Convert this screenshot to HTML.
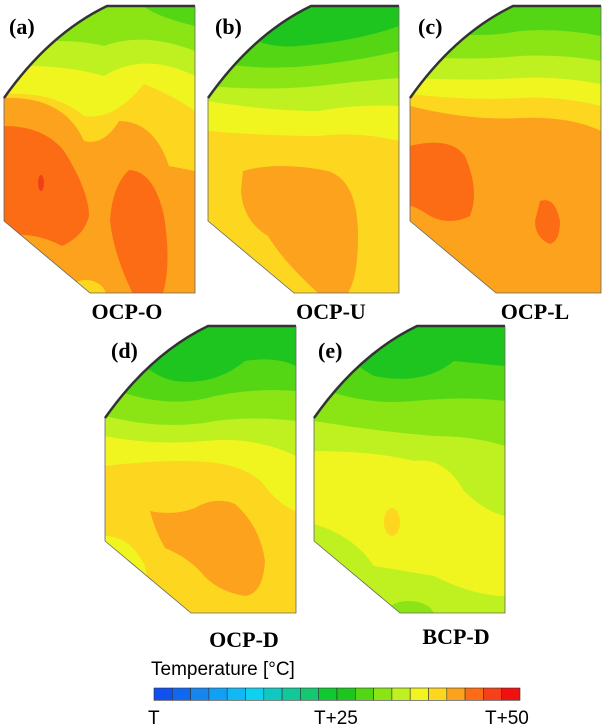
<!DOCTYPE html>
<html><head><meta charset="utf-8"><style>
html,body{margin:0;padding:0;background:#fff;width:610px;height:728px;overflow:hidden}
svg{display:block}
.l{font-family:"Liberation Serif",serif;font-weight:bold;font-size:22px;fill:#000}
.t{font-family:"Liberation Sans",sans-serif;font-size:19px;fill:#000}
</style></head><body>
<svg width="610" height="728" viewBox="0 0 610 728">
<defs>
<clipPath id="sh"><path d="M103,0 H191 V287 H86 L0,215 V92 Q45,28 103,0 Z"/></clipPath>
</defs>

<!-- Panel a -->
<g transform="translate(4,6)">
<g clip-path="url(#sh)">
<rect width="191" height="287" fill="#55d615"/>
<path d="M0,0 L0,0 H140 Q150,10 191,20 V287 H0Z" fill="#8be515"/>
<path d="M0,40 Q60,30 100,40 Q140,25 191,45 V287 H0Z" fill="#bff020"/>
<path d="M0,60 Q60,58 100,70 Q140,45 191,70 V287 H0Z" fill="#f0f520"/>
<path d="M0,88 Q50,85 80,110 Q110,115 140,78 Q170,90 191,105 V287 H0Z" fill="#fdd620"/>
<path d="M0,92 Q60,90 80,135 Q100,140 115,115 Q150,115 165,160 L191,165 V287 H0Z" fill="#fca21c"/>
<path d="M0,120 Q40,120 60,145 Q85,185 85,210 Q80,230 58,240 Q30,225 0,230Z" fill="#fc6c14"/>
<path d="M125,164 Q150,165 160,210 Q168,260 158,290 L130,290 Q110,250 106,215 Q108,180 125,164Z" fill="#fc6c14"/>
<ellipse cx="37" cy="177" rx="3" ry="8" fill="#f0401a"/>
<ellipse cx="82" cy="290" rx="20" ry="16" fill="#fdd620"/>
</g>
<path d="M0,92 Q45,28 103,0 H191" fill="none" stroke="#333" stroke-width="2.5"/>
<path d="M191,0 V287 H86 L0,215 V92" fill="none" stroke="#666" stroke-width="0.8"/>
</g>

<!-- Panel b -->
<g transform="translate(208,6)">
<g clip-path="url(#sh)">
<rect width="191" height="287" fill="#1fc51f"/>
<path d="M0,0 Q40,45 90,40 Q150,35 191,20 V287 H0Z" fill="#55d615"/>
<path d="M0,55 Q50,65 100,60 Q150,55 191,45 V287 H0Z" fill="#8be515"/>
<path d="M0,80 Q60,85 110,80 Q150,75 191,72 V287 H0Z" fill="#bff020"/>
<path d="M0,95 Q60,105 110,105 Q150,98 191,100 V287 H0Z" fill="#f0f520"/>
<path d="M0,125 Q60,130 110,130 Q150,125 191,135 V287 H0Z" fill="#fdd620"/>
<path d="M35,165 Q70,155 120,165 Q150,175 150,230 Q150,270 140,287 L110,287 Q75,255 60,230 Q35,215 33,185Z" fill="#fca21c"/>
</g>
<path d="M0,92 Q45,28 103,0 H191" fill="none" stroke="#333" stroke-width="2.5"/>
<path d="M191,0 V287 H86 L0,215 V92" fill="none" stroke="#666" stroke-width="0.8"/>
</g>

<!-- Panel c -->
<g transform="translate(410,6)">
<g clip-path="url(#sh)">
<rect width="191" height="287" fill="#55d615"/>
<path d="M0,20 Q60,35 110,25 Q150,22 191,30 V287 H0Z" fill="#8be515"/>
<path d="M0,50 Q60,55 110,50 Q150,48 191,55 V287 H0Z" fill="#bff020"/>
<path d="M0,72 Q60,75 110,72 Q150,70 191,78 V287 H0Z" fill="#f0f520"/>
<path d="M0,88 Q60,95 110,92 Q150,90 191,100 V287 H0Z" fill="#fdd620"/>
<path d="M0,100 Q60,115 110,112 Q160,110 191,125 V287 H0Z" fill="#fca21c"/>
<path d="M0,140 Q40,130 55,150 Q70,185 60,210 Q40,220 20,210 Q5,200 0,200Z" fill="#fc6c14"/>
<path d="M130,195 Q145,190 150,215 Q150,235 140,238 Q125,232 125,215Z" fill="#fc6c14"/>
<ellipse cx="10" cy="250" rx="25" ry="18" fill="#fdd620"/>
</g>
<path d="M0,92 Q45,28 103,0 H191" fill="none" stroke="#333" stroke-width="2.5"/>
<path d="M191,0 V287 H86 L0,215 V92" fill="none" stroke="#666" stroke-width="0.8"/>
</g>

<!-- Panel d -->
<g transform="translate(105,326)">
<g clip-path="url(#sh)">
<rect width="191" height="287" fill="#1fc51f"/>
<path d="M0,0 Q40,50 70,55 Q110,60 140,35 Q170,30 191,40 V287 H0Z" fill="#55d615"/>
<path d="M0,60 Q60,85 110,70 Q150,62 191,65 V287 H0Z" fill="#8be515"/>
<path d="M0,90 Q60,105 110,95 Q150,90 191,95 V287 H0Z" fill="#bff020"/>
<path d="M0,110 Q50,120 100,115 Q150,110 191,130 V287 H0Z" fill="#f0f520"/>
<path d="M0,140 Q40,135 80,135 Q140,135 160,160 Q175,180 191,185 V287 H0Z" fill="#fdd620"/>
<path d="M45,185 Q70,190 90,182 Q110,170 130,178 Q155,200 160,235 Q158,268 140,270 Q110,265 95,245 Q80,230 60,222 Q50,205 45,185Z" fill="#fca21c"/>
<path d="M0,210 Q25,210 40,240 Q45,270 60,287 H0Z" fill="#f0f520"/>
</g>
<path d="M0,92 Q45,28 103,0 H191" fill="none" stroke="#333" stroke-width="2.5"/>
<path d="M191,0 V287 H86 L0,215 V92" fill="none" stroke="#666" stroke-width="0.8"/>
</g>

<!-- Panel e -->
<g transform="translate(314,326)">
<g clip-path="url(#sh)">
<rect width="191" height="287" fill="#1fc51f"/>
<path d="M0,0 Q40,40 60,50 Q110,60 140,35 Q170,38 191,40 V287 H0Z" fill="#55d615"/>
<path d="M0,60 Q50,80 100,75 Q150,70 191,75 V287 H0Z" fill="#8be515"/>
<path d="M0,95 Q60,105 120,110 Q160,110 191,120 V287 H0Z" fill="#bff020"/>
<path d="M0,125 Q60,125 100,135 Q130,130 150,165 Q170,185 191,190 V287 H0Z" fill="#f0f520"/>
<path d="M0,198 Q40,210 60,240 Q90,245 120,250 Q160,270 191,270 V287 H0Z" fill="#bff020"/>
<ellipse cx="78" cy="196" rx="8" ry="14" fill="#fdd620"/>
<ellipse cx="95" cy="290" rx="25" ry="15" fill="#8be515"/>
</g>
<path d="M0,92 Q45,28 103,0 H191" fill="none" stroke="#333" stroke-width="2.5"/>
<path d="M191,0 V287 H86 L0,215 V92" fill="none" stroke="#666" stroke-width="0.8"/>
</g>

<!-- labels -->
<text class="l" x="9" y="34">(a)</text>
<text class="l" x="215" y="34">(b)</text>
<text class="l" x="418" y="34">(c)</text>
<text class="l" x="111" y="358">(d)</text>
<text class="l" x="318" y="358">(e)</text>
<text class="l" x="127" y="319" text-anchor="middle">OCP-O</text>
<text class="l" x="331" y="319" text-anchor="middle">OCP-U</text>
<text class="l" x="535" y="319" text-anchor="middle">OCP-L</text>
<text class="l" x="244" y="647" text-anchor="middle">OCP-D</text>
<text class="l" x="456" y="644" text-anchor="middle">BCP-D</text>

<!-- colorbar -->
<text class="t" x="151" y="675">Temperature [°C]</text>
<g transform="translate(154,688)" stroke="#333" stroke-width="0.6">
<rect x="0" width="18.3" height="12.3" fill="#1050f0"/>
<rect x="18.3" width="18.3" height="12.3" fill="#1068f0"/>
<rect x="36.6" width="18.3" height="12.3" fill="#1585f0"/>
<rect x="54.9" width="18.3" height="12.3" fill="#10a0f5"/>
<rect x="73.2" width="18.3" height="12.3" fill="#10b8f5"/>
<rect x="91.5" width="18.3" height="12.3" fill="#10d0f0"/>
<rect x="109.8" width="18.3" height="12.3" fill="#10c8c0"/>
<rect x="128.1" width="18.3" height="12.3" fill="#10c898"/>
<rect x="146.4" width="18.3" height="12.3" fill="#15c870"/>
<rect x="164.7" width="18.3" height="12.3" fill="#10c830"/>
<rect x="183" width="18.3" height="12.3" fill="#1fc51f"/>
<rect x="201.3" width="18.3" height="12.3" fill="#55d615"/>
<rect x="219.6" width="18.3" height="12.3" fill="#8be515"/>
<rect x="237.9" width="18.3" height="12.3" fill="#bff020"/>
<rect x="256.2" width="18.3" height="12.3" fill="#f0f520"/>
<rect x="274.5" width="18.3" height="12.3" fill="#fdd620"/>
<rect x="292.8" width="18.3" height="12.3" fill="#fca21c"/>
<rect x="311.1" width="18.3" height="12.3" fill="#fc6c14"/>
<rect x="329.4" width="18.3" height="12.3" fill="#f5401a"/>
<rect x="347.7" width="18.3" height="12.3" fill="#f01010"/>
</g>
<text class="t" x="148" y="724">T</text>
<text class="t" x="314" y="724">T+25</text>
<text class="t" x="485" y="724">T+50</text>
</svg>
</body></html>
